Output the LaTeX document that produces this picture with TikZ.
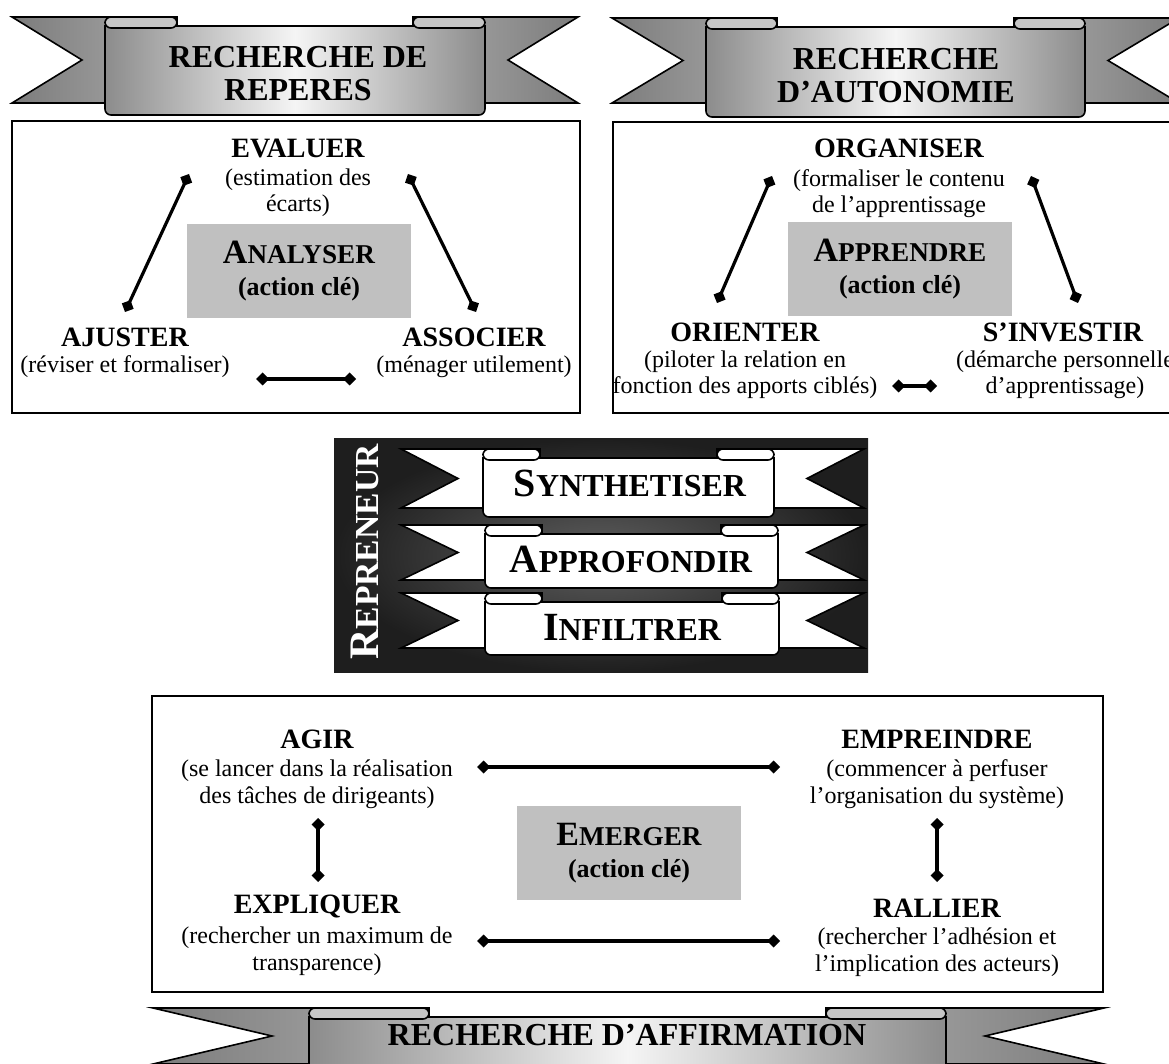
\documentclass[tikz,border=0pt]{standalone}
\usepackage{fontspec}
\setmainfont{Liberation Serif}
\usetikzlibrary{positioning}
\usetikzlibrary{arrows.meta}

\definecolor{keygray}{HTML}{C0C0C0}
\definecolor{tailgray}{HTML}{7C7C7C}
\definecolor{tailhi}{HTML}{ABABAB}
\definecolor{pnlgray}{HTML}{8C8C8C}
\definecolor{boxdark}{HTML}{1E1E1E}
\definecolor{boxmid}{HTML}{5E5E5E}

% faux small caps: big size, small size, first letter, rest
\newcommand\kc[4]{{\fontsize{#1}{#1}\selectfont #3}{\fontsize{#2}{#2}\selectfont #4}}

% tail left, tail right, top, bottom, notch, panel left, panel right, panel bottom, curl
\newcommand\ribbon[9]{%
  \path[tailL] (#1,#3) -- ({#6+#9},#3) -- ({#6+#9},#4) -- (#1,#4) -- ({#1+#5},{(#3+#4)/2}) -- cycle;
  \path[tailR] (#2,#3) -- ({#7-#9},#3) -- ({#7-#9},#4) -- (#2,#4) -- ({#2-#5},{(#3+#4)/2}) -- cycle;
  \path[panel] (#6,{#3+9}) [rounded corners=3pt] -- (#6,#8) -- (#7,#8) [sharp corners] -- (#7,{#3+9}) -- cycle;
  \path[curl] (#6,#3) rectangle ({#6+#9},{#3+11});
  \path[curl] ({#7-#9},#3) rectangle (#7,{#3+11});
}

\begin{document}
\begin{tikzpicture}[x=0.5pt, y=-0.5pt,
    ttl/.style={font=\bfseries\fontsize{14}{16}\selectfont, inner sep=0pt, anchor=base},
    dsc/.style={font=\fontsize{12}{13.3}\selectfont, align=center, inner sep=0pt, anchor=base},
    keybox/.style={fill=keygray, font=\bfseries\fontsize{13}{16}\selectfont, align=center,
        minimum width=112pt, minimum height=47pt, inner sep=0pt},
    frame/.style={draw, line width=1pt},
    link/.style={line width=1.6pt, {Diamond[length=6.5pt,width=6.5pt]}-{Diamond[length=6.5pt,width=6.5pt]}},
    bantxt/.style={font=\bfseries\fontsize{16}{16.5}\selectfont, align=center, inner sep=0pt, anchor=base},
    bandtxt/.style={font=\bfseries, inner sep=0pt, anchor=base},
    tailL/.style={draw, line width=0.8pt, left color=tailgray, right color=tailhi},
    tailR/.style={draw, line width=0.8pt, left color=tailhi, right color=tailgray},
    panel/.style={draw, line width=0.8pt, left color=pnlgray, right color=pnlgray, middle color=white!96!black},
    curl/.style={draw, line width=0.8pt, fill=gray!45, rounded corners=3pt}]

    \useasboundingbox (0,0) rectangle (1169,1064);
    \clip (0,0) rectangle (1169,1064);
    \fill[white] (0,0) rectangle (1169,1064);

    % banners on top
    \ribbon{12}{578}{17}{103}{70}{105}{485}{115}{72}
    \node[bantxt] (banRep) at (298,101) {RECHERCHE DE\\REPERES};
    \ribbon{612}{1179}{18}{103}{71}{706}{1085}{117}{71}
    \node[bantxt] (banAut) at (896,103) {RECHERCHE\\D'AUTONOMIE};

    % left box
    \draw[frame] (12,121) rectangle (580,413);
    \node[ttl] (ev) at (298,158) {EVALUER};
    \node[dsc] (evd) at (298,212) {(estimation des\\écarts)};
    \node[keybox] (an) at (299,271) {\kc{17}{13.6}{A}{NALYSER}\\(action clé)};
    \node[ttl] (aj) at (125,347) {AJUSTER};
    \node[dsc] (ajd) at (125,373) {(réviser et formaliser)};
    \node[ttl] (as) at (474,347) {ASSOCIER};
    \node[dsc] (asd) at (474,373) {(ménager utilement)};
    \coordinate (ev-l) at (189,174);
    \coordinate (ev-r) at (408,174);
    \coordinate (aj-t) at (125,312);
    \coordinate (as-t) at (476,312);
    \coordinate (aj-r) at (256,379);
    \coordinate (as-l) at (356,379);
    \draw[link] (ev-l) -- (aj-t);
    \draw[link] (ev-r) -- (as-t);
    \draw[link] (aj-r) -- (as-l);

    % right box
    \draw[frame] (613,122) rectangle (1190,413);
    \node[ttl] (og) at (899,158) {ORGANISER};
    \node[dsc] (ogd) at (899,213) {(formaliser le contenu\\de l'apprentissage};
    \node[keybox] (ap) at (900,269) {\kc{17}{13.6}{A}{PPRENDRE}\\(action clé)};
    \node[ttl] (or) at (745,342) {ORIENTER};
    \node[dsc] (ord) at (745,394) {(piloter la relation en\\fonction des apports ciblés)};
    \node[ttl] (si) at (1063,342) {S'INVESTIR};
    \node[dsc] (sid) at (1065,394) {(démarche personnelle\\d'apprentissage)};
    \coordinate (og-l) at (772,176);
    \coordinate (og-r) at (1031,176);
    \coordinate (or-t) at (717,303);
    \coordinate (si-t) at (1078,303);
    \coordinate (or-r) at (892,386);
    \coordinate (si-l) at (937,386);
    \draw[link] (og-l) -- (or-t);
    \draw[link] (og-r) -- (si-t);
    \draw[link] (or-r) -- (si-l);

    % repreneur block
    \shade[inner color=boxmid, outer color=boxdark] (334,439) rectangle (868,672);
    \node[rotate=90, text=white, font=\bfseries, inner sep=0pt] (rep) at (365,552) {\kc{21}{16.8}{R}{EPRENEUR}};
    \begin{scope}[tailL/.style={draw, line width=0.8pt, fill=white},
                  tailR/.style={draw, line width=0.8pt, fill=white},
                  panel/.style={draw, line width=0.8pt, fill=white},
                  curl/.style={draw, line width=0.8pt, fill=white, rounded corners=3pt}]
        \ribbon{401}{864}{449}{508}{57}{483}{774}{517}{57}
        \ribbon{401}{864}{525}{580}{57}{485}{778}{588}{57}
        \ribbon{401}{864}{593}{648}{57}{485}{779}{655}{57}
    \end{scope}
    \node[bandtxt] (syn) at (630,497) {\kc{20}{16}{S}{YNTHETISER}};
    \node[bandtxt] (appro) at (631,573) {\kc{20}{16}{A}{PPROFONDIR}};
    \node[bandtxt] (infil) at (632,640) {\kc{20}{16}{I}{NFILTRER}};

    % bottom box
    \draw[frame] (152,696) rectangle (1103,992);
    \node[ttl] (ag) at (317,748) {AGIR};
    \node[dsc] (agd) at (317,803) {(se lancer dans la réalisation\\des tâches de dirigeants)};
    \node[ttl] (ex) at (317,913) {EXPLIQUER};
    \node[dsc] (exd) at (317,970) {(rechercher un maximum de\\transparence)};
    \node[ttl] (em) at (937,748) {EMPREINDRE};
    \node[dsc] (emd) at (937,803) {(commencer à perfuser\\l'organisation du système)};
    \node[ttl] (ra) at (937,917) {RALLIER};
    \node[dsc] (rad) at (937,971) {(rechercher l'adhésion et\\l'implication des acteurs)};
    \node[keybox] (eg) at (629,853) {\kc{17}{13.6}{E}{MERGER}\\(action clé)};
    \coordinate (ag-r) at (477,767);
    \coordinate (em-l) at (780,767);
    \coordinate (ex-r) at (477,941);
    \coordinate (ra-l) at (780,941);
    \coordinate (ag-b) at (318,818);
    \coordinate (ex-t) at (318,882);
    \coordinate (em-b) at (937,818);
    \coordinate (ra-t) at (937,882);
    \draw[link] (ag-r) -- (em-l);
    \draw[link] (ex-r) -- (ra-l);
    \draw[link] (ag-b) -- (ex-t);
    \draw[link] (em-b) -- (ra-t);

    % banner at the bottom
    \ribbon{153}{1104}{1008}{1064}{119}{309}{946}{1090}{120}
    \node[bantxt] (banAff) at (627,1045) {RECHERCHE D'AFFIRMATION};
\end{tikzpicture}
\end{document}
